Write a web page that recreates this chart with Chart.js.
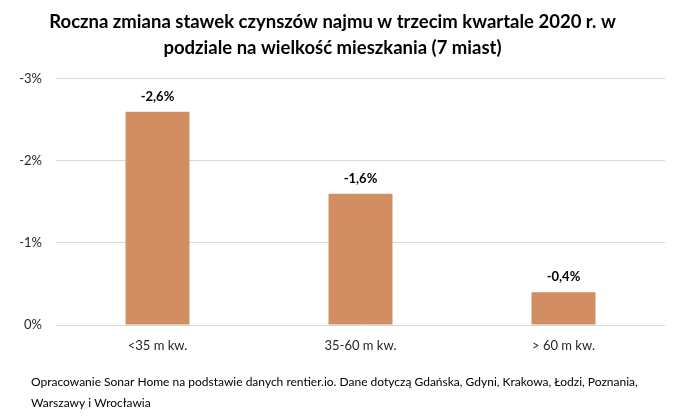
<!DOCTYPE html>
<html lang="pl">
  <head>
    <meta charset="UTF-8" />
    <title>Roczna zmiana stawek czynszów najmu</title>
    <style>
      html, body { margin: 0; padding: 0; background: #fff; }
      .chart-container { width: 700px; height: 416px; }
    </style>
  </head>
  <body>
    <div class="chart-container">
      <canvas id="barChart"></canvas>
    </div>

    <script src="https://cdn.jsdelivr.net/npm/chart.js"></script>
    <script>
      // dane z wykresu
      const categories = ['<35 m kw.', '35-60 m kw.', '> 60 m kw.'];
      const changes = [-2.6, -1.6, -0.4];
      const axisMin = -3;
      const axisMax = 0;

      const titleLines = [
        'Roczna zmiana stawek czynszów najmu w trzecim kwartale 2020 r. w',
        'podziale na wielkość mieszkania (7 miast)'
      ];
      const sourceLines = [
        'Opracowanie Sonar Home na podstawie danych rentier.io. Dane dotyczą Gdańska, Gdyni, Krakowa, Łodzi, Poznania,',
        'Warszawy i Wrocławia'
      ];

      const fontFamily = 'Lato, "Open Sans", sans-serif';

      const fmt = v => v.toFixed(1).replace('.', ',') + '%';

      // etykiety nad słupkami
      const valueLabels = {
        id: 'valueLabels',
        afterDatasetsDraw(chart) {
          const ctx = chart.ctx;
          const meta = chart.getDatasetMeta(0);
          ctx.save();
          ctx.font = 'bold 13px ' + fontFamily;
          ctx.fillStyle = '#000';
          ctx.textAlign = 'center';
          ctx.textBaseline = 'middle';
          meta.data.forEach((bar, i) => {
            ctx.fillText(fmt(changes[i]), bar.x, bar.y - 15);
          });
          ctx.restore();
        }
      };

      // stopka ze źródłem
      const sourceNote = {
        id: 'sourceNote',
        afterDraw(chart) {
          const ctx = chart.ctx;
          ctx.save();
          ctx.font = '12px ' + fontFamily;
          ctx.fillStyle = '#000';
          ctx.textAlign = 'left';
          ctx.textBaseline = 'middle';
          sourceLines.forEach((line, i) => {
            ctx.fillText(line, 31, 382 + i * 21);
          });
          ctx.restore();
        }
      };

      const ctxBar = document.getElementById('barChart').getContext('2d');
      new Chart(ctxBar, {
        type: 'bar',
        data: {
          labels: categories,
          datasets: [{
            data: changes,
            backgroundColor: '#D18E62',
            borderWidth: 0,
            barPercentage: 0.315,
            categoryPercentage: 1
          }]
        },
        options: {
          responsive: true,
          maintainAspectRatio: false,
          animation: false,
          layout: { padding: { left: 0, right: 35, top: 0, bottom: 51 } },
          plugins: {
            legend: { display: false },
            tooltip: { enabled: false },
            title: {
              display: true,
              text: titleLines,
              color: '#000',
              font: { family: fontFamily, size: 18.5, weight: 'bold', lineHeight: 1.4 },
              padding: { top: 9, bottom: 18 }
            }
          },
          scales: {
            x: {
              grid: { display: false },
              border: { display: false },
              ticks: {
                color: '#262626',
                padding: 5,
                font: { family: fontFamily, size: 13 }
              },
              afterFit(scale) { scale.height = 40; }
            },
            y: {
              reverse: true,
              min: axisMin,
              max: axisMax,
              grid: { color: '#D9D9D9', drawTicks: false },
              border: { display: false },
              ticks: {
                stepSize: 1,
                padding: 14,
                color: '#262626',
                font: { family: fontFamily, size: 13 },
                callback: v => v + '%'
              },
              afterFit(scale) { scale.width = 56; }
            }
          }
        },
        plugins: [valueLabels, sourceNote]
      });
    </script>
  </body>
</html>
